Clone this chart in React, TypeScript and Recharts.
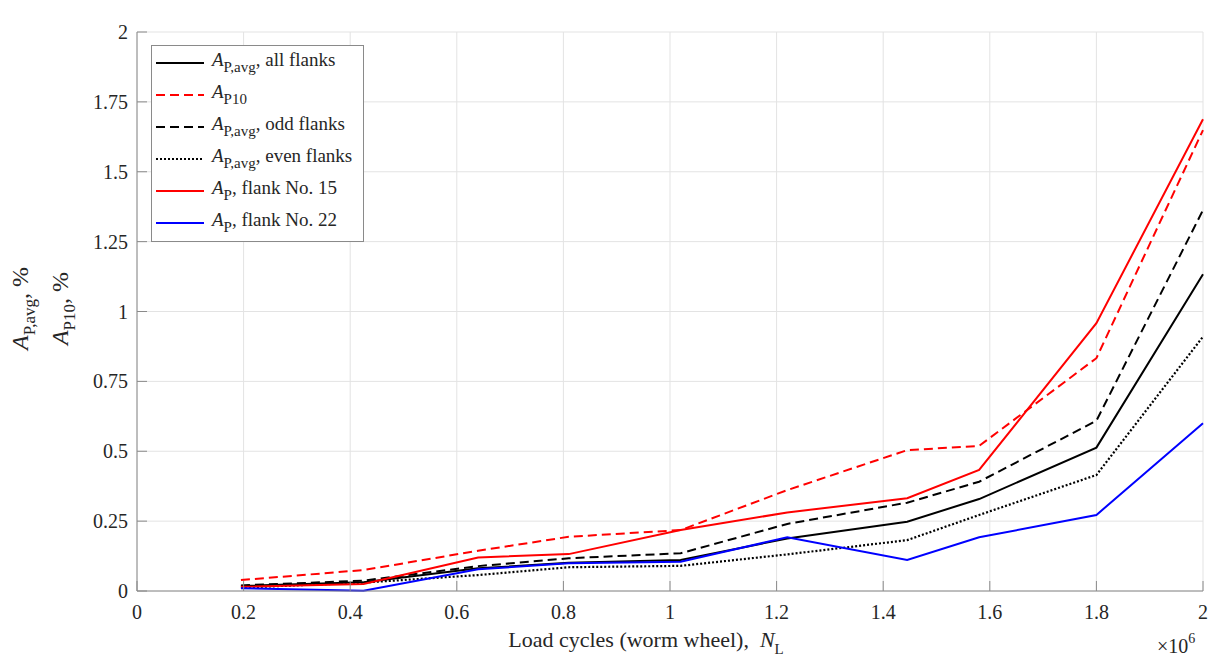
import { CartesianGrid, Legend, Line, LineChart, XAxis, YAxis } from "recharts";

const FONT = '"Liberation Serif", "Times New Roman", serif';
const AXIS = "#8a8a8a";
const INK = "#262626";

// load cycles, x10^6
const cycles = [0.195, 0.425, 0.64, 0.81, 1.02, 1.22, 1.445, 1.58, 1.8, 2.0];
const avgAll = [0.018, 0.031, 0.081, 0.101, 0.111, 0.188, 0.248, 0.329, 0.513, 1.133];
const p10 = [0.039, 0.075, 0.144, 0.194, 0.218, 0.361, 0.504, 0.519, 0.833, 1.649];
const avgOdd = [0.02, 0.037, 0.089, 0.117, 0.135, 0.24, 0.316, 0.391, 0.609, 1.363];
const avgEven = [0.012, 0.03, 0.057, 0.085, 0.09, 0.131, 0.182, 0.272, 0.415, 0.91];
const flank15 = [0.015, 0.025, 0.12, 0.132, 0.218, 0.281, 0.332, 0.433, 0.958, 1.688];
const flank22 = [0.01, 0.001, 0.078, 0.099, 0.105, 0.192, 0.111, 0.192, 0.272, 0.6];

const xTicks = [0, 0.2, 0.4, 0.6, 0.8, 1, 1.2, 1.4, 1.6, 1.8, 2];
const yTicks = [0, 0.25, 0.5, 0.75, 1, 1.25, 1.5, 1.75, 2];

const data = cycles.map((n, i) => ({
  n,
  avgAll: avgAll[i],
  p10: p10[i],
  avgOdd: avgOdd[i],
  avgEven: avgEven[i],
  flank15: flank15[i],
  flank22: flank22[i],
}));

const series = [
  { key: "avgAll", color: "#000000", dash: undefined, sub: "P,avg", rest: ", all flanks" },
  { key: "p10", color: "#ff0000", dash: "9 5", sub: "P10", rest: "" },
  { key: "avgOdd", color: "#000000", dash: "9 5", sub: "P,avg", rest: ", odd flanks" },
  { key: "avgEven", color: "#000000", dash: "2 2", sub: "P,avg", rest: ", even flanks" },
  { key: "flank15", color: "#ff0000", dash: undefined, sub: "P", rest: ", flank No. 15" },
  { key: "flank22", color: "#0000ff", dash: undefined, sub: "P", rest: ", flank No. 22" },
];

function LegendBox() {
  return (
    <div
      style={{
        border: `1px solid ${AXIS}`,
        background: "#fff",
        fontFamily: FONT,
        fontSize: 19,
        color: INK,
        paddingTop: 1,
        boxSizing: "border-box",
        width: 213,
        height: 197,
      }}
    >
      {series.map((s) => (
        <div key={s.key} style={{ height: 32, display: "flex", alignItems: "center" }}>
          <svg width={48} height={8} style={{ marginLeft: 4, marginRight: 8, flex: "none" }}>
            <line x1={0} y1={4} x2={48} y2={4} stroke={s.color} strokeWidth={2.2} strokeDasharray={s.dash} />
          </svg>
          <span style={{ whiteSpace: "nowrap", position: "relative", top: -3 }}>
            <i>A</i>
            <span style={{ fontSize: 15, position: "relative", top: 6 }}>{s.sub}</span>
            {s.rest}
          </span>
        </div>
      ))}
    </div>
  );
}

function XTitle({ viewBox }: any) {
  const { x, y, width } = viewBox;
  const cx = x + width / 2;
  return (
    <g style={{ fontFamily: FONT }} fill={INK}>
      <text x={cx - 24} y={y + 56} fontSize={22} textAnchor="middle">
        Load cycles (worm wheel),{"\u00a0\u00a0"}
        <tspan fontStyle="italic">N</tspan>
        <tspan dy={7} fontSize={15}>L</tspan>
      </text>
      <text x={x + width - 46} y={y + 62} fontSize={20}>
        ×10
        <tspan dy={-10} fontSize={14}>6</tspan>
      </text>
    </g>
  );
}

function YTitle({ viewBox }: any) {
  const { x, y, height } = viewBox;
  const cy = y + height / 2 - 3;
  const lines = [
    { bx: x + 28, sub: "P,avg" },
    { bx: x + 68, sub: "P10" },
  ];
  return (
    <g style={{ fontFamily: FONT }} fill={INK}>
      {lines.map((l) => (
        <text
          key={l.sub}
          x={l.bx}
          y={cy}
          fontSize={24}
          textAnchor="middle"
          transform={`rotate(-90 ${l.bx} ${cy})`}
        >
          <tspan fontStyle="italic">A</tspan>
          <tspan dy={7} fontSize={17}>
            {l.sub}
          </tspan>
          <tspan dy={-7}>, %</tspan>
        </text>
      ))}
    </g>
  );
}

function Title({ viewBox }: any) {
  const { x, y, width } = viewBox;
  return (
    <text
      x={x + width / 2}
      y={y - 6}
      textAnchor="middle"
      style={{ fontFamily: FONT }}
      fontSize={23}
      fontWeight="bold"
      fill="#000"
    >
      Worm wheel 3
    </text>
  );
}

export default function App() {
  const tickStyle = { fill: INK, fontSize: 20, style: { fontFamily: FONT } };
  return (
    <div style={{ position: "absolute", left: 0, top: 0, background: "#fff", fontFamily: FONT }}>
      <LineChart
        width={1215}
        height={664}
        data={data}
        margin={{ top: 32, right: 12, bottom: 0, left: 0 }}
        style={{ fontFamily: FONT }}
      >
        <CartesianGrid stroke="#e3e3e3" strokeWidth={1} />
        <XAxis
          dataKey="n"
          type="number"
          domain={[0, 2]}
          ticks={xTicks}
          interval={0}
          height={73}
          stroke={AXIS}
          tickSize={-10}
          tickMargin={24}
          tick={tickStyle}
          tickFormatter={(v: number) => String(v)}
          label={<XTitle />}
        />
        <XAxis
          xAxisId="top"
          orientation="top"
          dataKey="n"
          type="number"
          domain={[0, 2]}
          ticks={xTicks}
          interval={0}
          height={0}
          stroke={AXIS}
          tickSize={-10}
          tick={false}
          label={<Title />}
        />
        <YAxis
          type="number"
          domain={[0, 2]}
          ticks={yTicks}
          interval={0}
          width={137}
          stroke={AXIS}
          tickSize={-10}
          tickMargin={19}
          tick={tickStyle}
          tickFormatter={(v: number) => String(v)}
          label={<YTitle />}
        />
        <YAxis
          yAxisId="right"
          orientation="right"
          type="number"
          domain={[0, 2]}
          ticks={yTicks}
          interval={0}
          width={0}
          stroke={AXIS}
          tickSize={-10}
          tick={false}
        />
        <Legend
          layout="vertical"
          align="center"
          verticalAlign="middle"
          content={() => <LegendBox />}
          wrapperStyle={{ left: 151, top: 45, width: 213, height: 197 }}
        />
        {series.map((s) => (
          <Line
            key={s.key}
            dataKey={s.key}
            stroke={s.color}
            strokeWidth={s.dash === "2 2" ? 2.2 : 2}
            strokeDasharray={s.dash}
            dot={false}
            activeDot={false}
            isAnimationActive={false}
          />
        ))}
      </LineChart>
    </div>
  );
}
